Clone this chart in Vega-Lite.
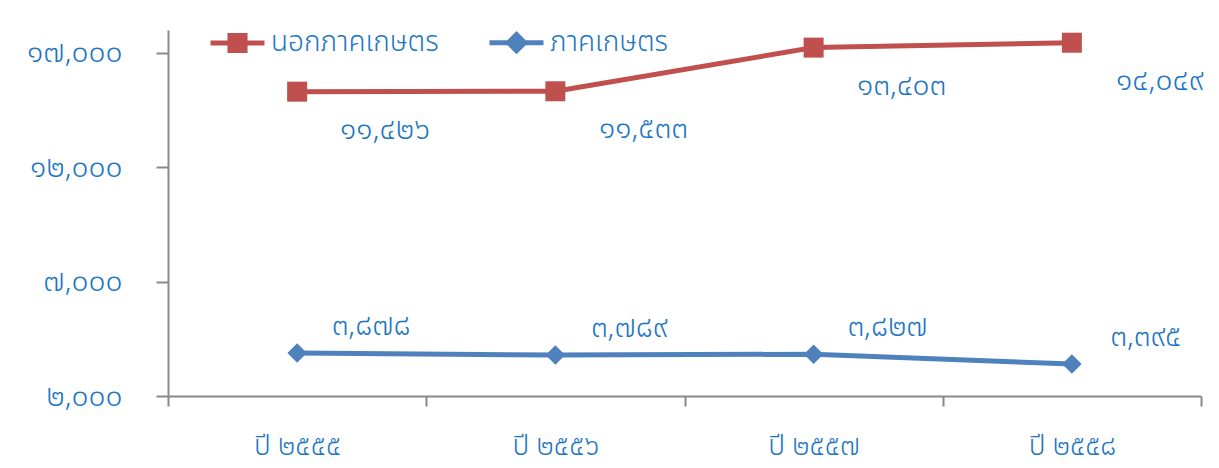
{
  "$schema": "https://vega.github.io/schema/vega-lite/v6.json",
  "autosize": {"type": "none"},
  "width": 1033,
  "height": 366,
  "padding": {"left": 168, "top": 30, "right": 18, "bottom": 72},
  "background": "white",
  "config": {
    "font": "Noto Sans Thai, Tahoma, Noto Sans, sans-serif",
    "view": {"stroke": null}
  },
  "data": {
    "values": [
      {"year": "ปี ๒๕๕๕", "series": "ภาคเกษตร", "order": 1, "value": 3878, "label": "๓,๘๗๘"},
      {"year": "ปี ๒๕๕๖", "series": "ภาคเกษตร", "order": 1, "value": 3789, "label": "๓,๗๘๙"},
      {"year": "ปี ๒๕๕๗", "series": "ภาคเกษตร", "order": 1, "value": 3827, "label": "๓,๘๒๗"},
      {"year": "ปี ๒๕๕๘", "series": "ภาคเกษตร", "order": 1, "value": 3395, "label": "๓,๓๙๕"},
      {"year": "ปี ๒๕๕๕", "series": "นอกภาคเกษตร", "order": 2, "value": 11426, "label": "๑๑,๔๒๖"},
      {"year": "ปี ๒๕๕๖", "series": "นอกภาคเกษตร", "order": 2, "value": 11533, "label": "๑๑,๕๓๓"},
      {"year": "ปี ๒๕๕๗", "series": "นอกภาคเกษตร", "order": 2, "value": 13403, "label": "๑๓,๔๐๓"},
      {"year": "ปี ๒๕๕๘", "series": "นอกภาคเกษตร", "order": 2, "value": 14049, "label": "๑๔,๐๔๙"}
    ]
  },
  "transform": [
    {"stack": "value", "groupby": ["year"], "sort": [{"field": "order", "order": "ascending"}], "as": ["y0", "y1"]}
  ],
  "encoding": {
    "x": {
      "field": "year", "type": "nominal",
      "sort": ["ปี ๒๕๕๕", "ปี ๒๕๕๖", "ปี ๒๕๕๗", "ปี ๒๕๕๘"],
      "scale": {"type": "band", "paddingInner": 0, "paddingOuter": 0},
      "axis": {
        "title": null, "labelAngle": 0, "grid": false,
        "domainColor": "#898989", "domainWidth": 2,
        "tickColor": "#898989", "tickWidth": 2, "tickSize": 10, "tickBand": "extent",
        "labelColor": "#1D76C2", "labelFontSize": 28, "labelPadding": 26, "labelFontWeight": 300
      }
    },
    "y": {
      "field": "y1", "type": "quantitative",
      "scale": {"domain": [2000, 18000], "nice": false, "zero": false},
      "axis": {
        "title": null, "grid": false,
        "values": [2000, 7000, 12000, 17000],
        "labelExpr": "datum.value == 2000 ? '๒,๐๐๐' : datum.value == 7000 ? '๗,๐๐๐' : datum.value == 12000 ? '๑๒,๐๐๐' : '๑๗,๐๐๐'",
        "domainColor": "#898989", "domainWidth": 2,
        "tickColor": "#898989", "tickWidth": 2, "tickSize": 12,
        "labelColor": "#1D76C2", "labelFontSize": 30, "labelPadding": 34, "labelFontWeight": 300, "labelDy": 6
      }
    }
  },
  "layer": [
    {
      "mark": {"type": "line", "strokeWidth": 5},
      "encoding": {
        "color": {
          "field": "series", "type": "nominal",
          "scale": {"domain": ["นอกภาคเกษตร", "ภาคเกษตร"], "range": ["#C0504D", "#4F81BD"]},
          "legend": {
            "title": null, "orient": "none", "legendX": 40, "legendY": -17,
            "direction": "horizontal", "labelFontSize": 28, "labelColor": "#1D76C2",
            "labelFontWeight": 300, "labelLimit": 400,
            "symbolSize": 2916, "symbolStrokeWidth": 5, "symbolOpacity": 1,
            "labelOffset": 4, "columnPadding": 40
          }
        }
      }
    },
    {
      "transform": [{"filter": "datum.series == 'นอกภาคเกษตร'"}],
      "mark": {"type": "point", "shape": "square", "filled": true, "size": 400, "color": "#C0504D", "opacity": 1}
    },
    {
      "transform": [{"filter": "datum.series == 'ภาคเกษตร'"}],
      "mark": {"type": "point", "shape": "diamond", "filled": true, "size": 380, "color": "#4F81BD", "opacity": 1}
    },
    {
      "transform": [{"filter": "datum.series == 'นอกภาคเกษตร'"}],
      "mark": {"type": "text", "dx": 88, "dy": 38, "fontSize": 30, "fontWeight": 300, "color": "#1D76C2"},
      "encoding": {"text": {"field": "label"}}
    },
    {
      "transform": [{"filter": "datum.series == 'ภาคเกษตร'"}],
      "mark": {"type": "text", "dx": 74, "dy": -27, "fontSize": 30, "fontWeight": 300, "color": "#1D76C2"},
      "encoding": {"text": {"field": "label"}}
    },
    {
      "mark": {"type": "point", "size": 0, "opacity": 1, "strokeWidth": 5},
      "encoding": {
        "shape": {
          "field": "series", "type": "nominal",
          "scale": {"domain": ["นอกภาคเกษตร", "ภาคเกษตร"], "range": ["M-1,0H1M-0.28,-0.28H0.28V0.28H-0.28ZM-0.28,-0.14H0.28M-0.28,0.14H0.28M0,-0.28V0.28", "M-1,0H1M0,-0.3L0.3,0L0,0.3L-0.3,0ZM-0.15,-0.15H0.15M-0.15,0.15H0.15M0,-0.3V0.3"]},
          "legend": {
            "title": null, "orient": "none", "legendX": 40, "legendY": -17,
            "direction": "horizontal", "labelFontSize": 28, "labelColor": "#1D76C2",
            "labelFontWeight": 300, "labelLimit": 400,
            "symbolSize": 2916, "symbolStrokeWidth": 5, "symbolOpacity": 1,
            "labelOffset": 4, "columnPadding": 40
          }
        }
      }
    }
  ]
}
